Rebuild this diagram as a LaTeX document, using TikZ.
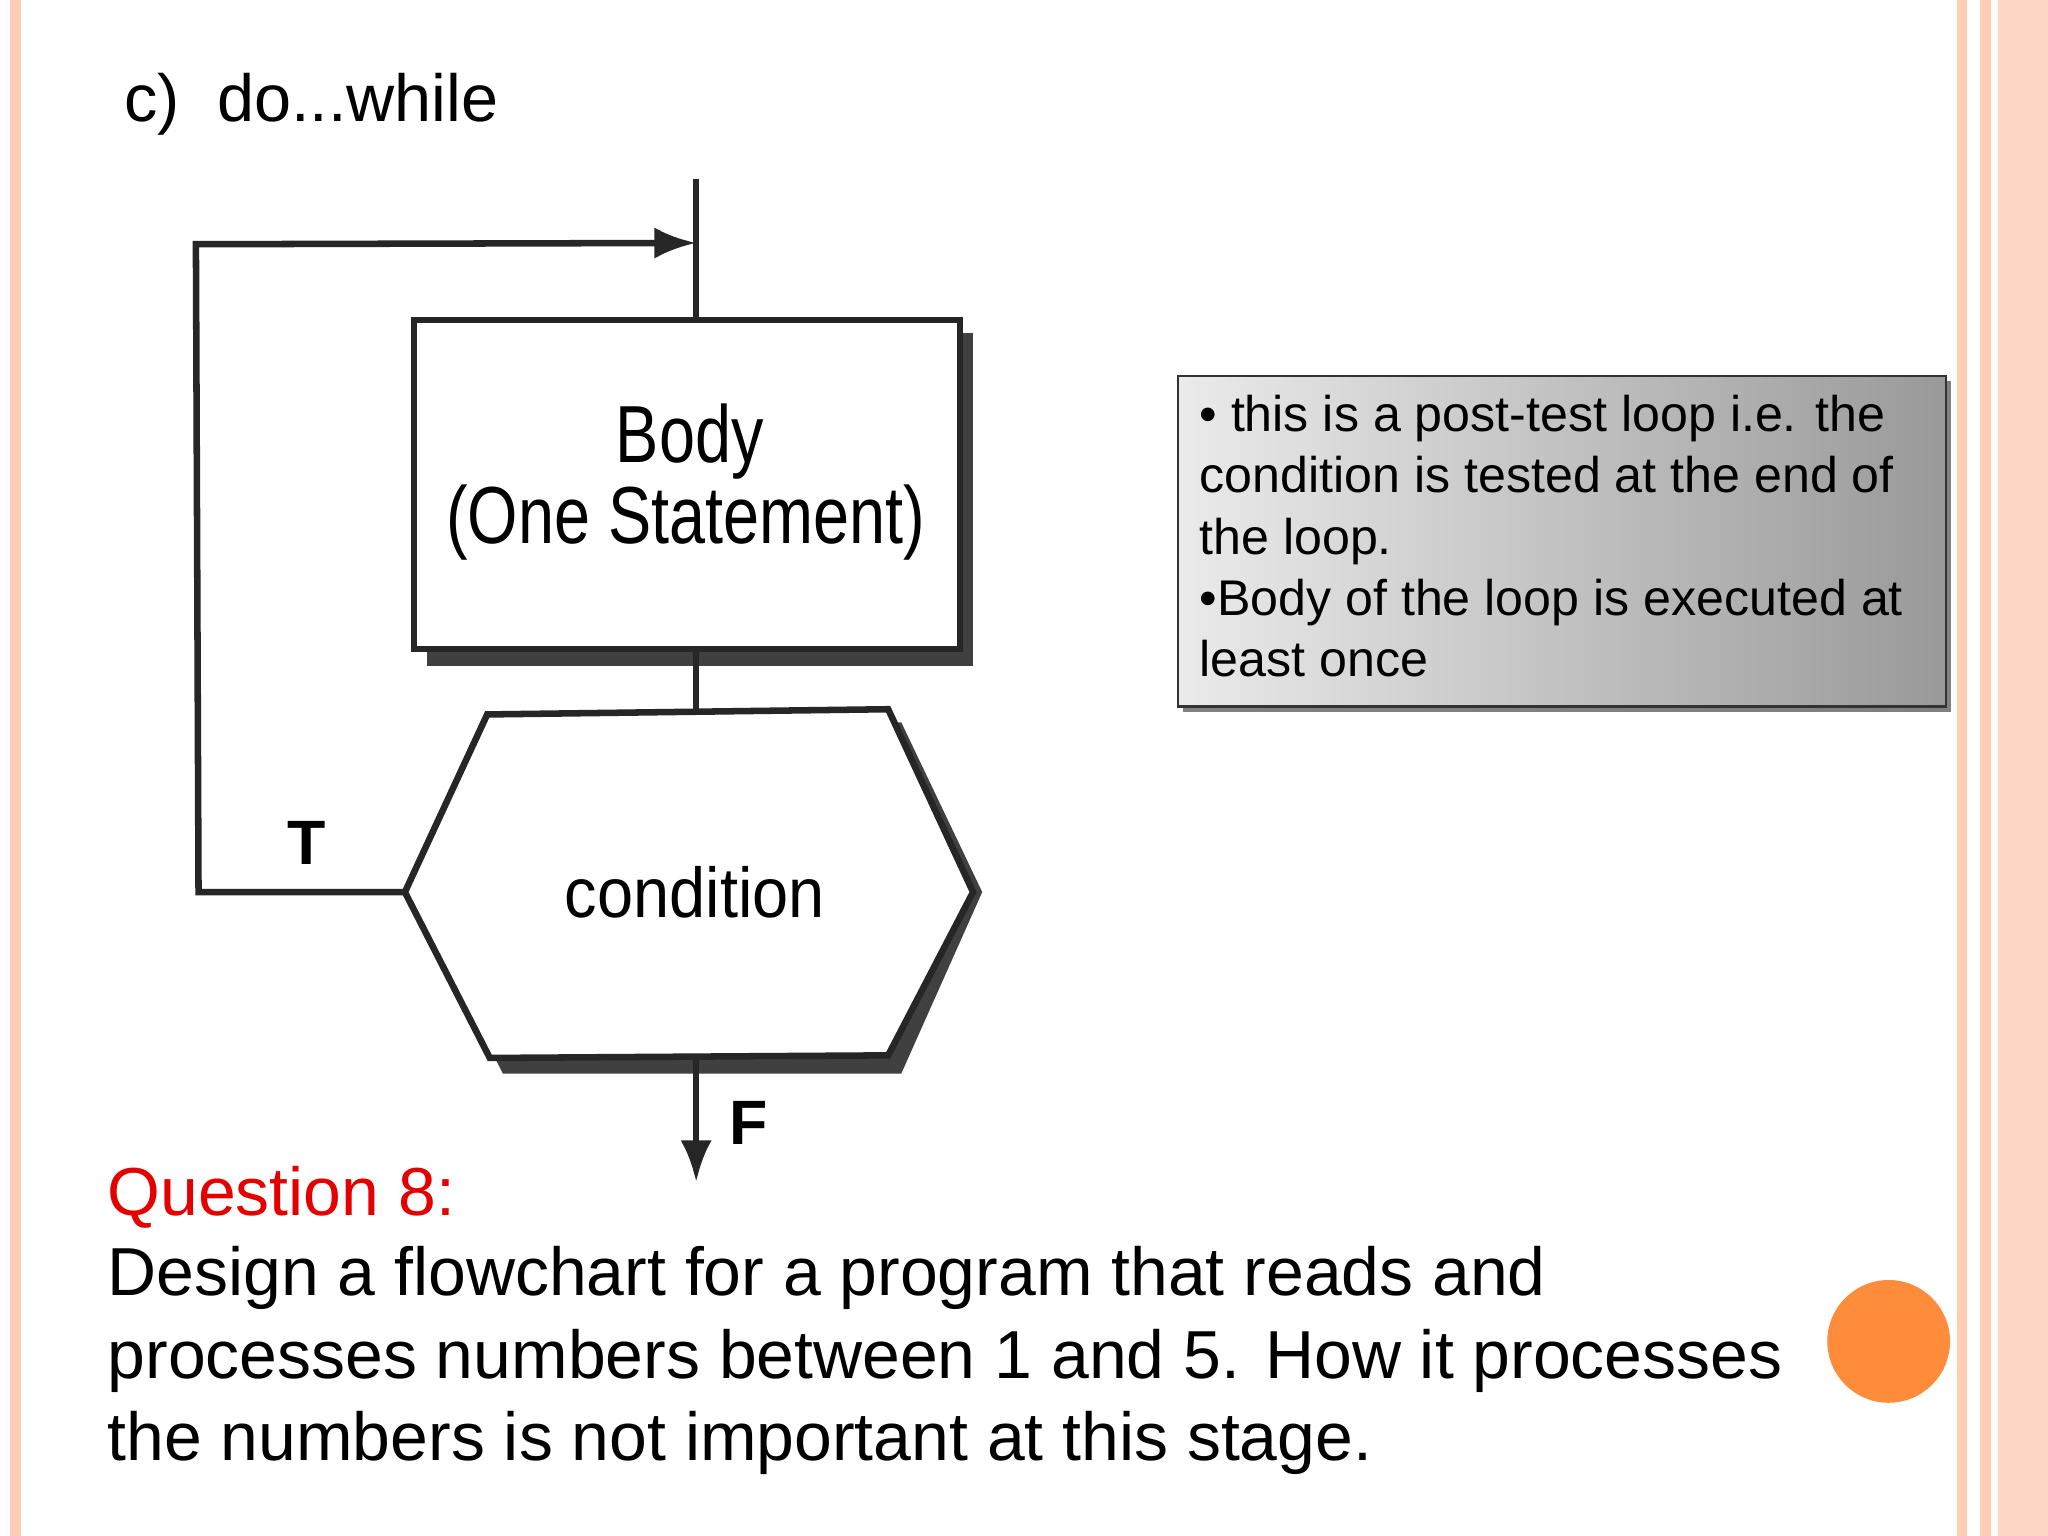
\documentclass[tikz,border=0pt]{standalone}
\usepackage{fontspec}
\usetikzlibrary{arrows.meta}
\setmainfont{Liberation Sans}
\definecolor{orng}{HTML}{FF8C3A}
\begin{document}
\begin{tikzpicture}[x=0.5pt,y=-0.5pt,
  ln/.style={line width=2.5pt,black!85},
  shad/.style={fill=black!75},
  lbl/.style={font=\fontsize{31}{36}\selectfont,inner sep=0pt}]
\useasboundingbox (0,0) rectangle (1568,1176);
\fill[white] (0,0) rectangle (1568,1176);
% stripes
\fill[orange!30!pink!60] (8,0) rectangle (16,1176);
\fill[orange!30!pink!60] (1498,0) rectangle (1506,1176);
\fill[orange!30!pink!60] (1516,0) rectangle (1524,1176);
\fill[orange!25!pink!50] (1530,0) rectangle (1568,1176);
\node[anchor=west,inner sep=0pt,font=\fontsize{25.5}{28}\selectfont] (title) at (95,80) {c)\ \ do...while};
% shapes
\fill[shad] (327,255) rectangle (745,510);
\node[draw,ln,fill=white,minimum width=209pt,minimum height=126pt,inner sep=0pt] (body) at (526,371) {};
\node[lbl] (bt) at (528,338) {\scalebox{0.8}[1]{Body}};
\node[lbl] (bt2) at (525,400) {\scalebox{0.8}[1]{(One Statement)}};
\fill[shad] (385,557)--(690,553)--(752,683)--(690,822)--(385,822)--(320,693)--cycle;
\draw[ln,fill=white] (373,547)--(680,543)--(745,683)--(680,808)--(375,810)--(310,683)--cycle;
\coordinate (hl) at (310,683);
\coordinate (ht) at (533,546);
\coordinate (hb) at (533,809);
\node[inner sep=0pt,font=\fontsize{27}{30}\selectfont] (cond) at (532,683) {\scalebox{0.92}[1]{condition}};
\coordinate (top) at (533,137);
\coordinate (join) at (533,186);
\coordinate (c1) at (150,187);
\coordinate (c2) at (152,683);
\coordinate (fend) at (533,905);
\draw[ln] (top)--(body.north -| top);
\draw[ln] (body.south -| top)--(ht);
\draw[ln,-{Latex[length=16pt,width=12pt]}] (hl)--(c2)--(c1)--(join);
\draw[ln,-{Latex[length=16pt,width=12pt]}] (hb)--(fend);
\node[font=\bfseries\fontsize{24}{28}\selectfont] (T) at (235,645) {T};
\node[font=\bfseries\fontsize{24}{28}\selectfont] (F) at (573,860) {F};
% gray box
\fill[black!50] (906,292) rectangle (1494,545);
\shade[left color=black!8,right color=black!40,draw=black!80,line width=1pt] (902,288) rectangle (1490,541);
\node[anchor=north west,inner sep=0pt,align=left,font=\fontsize{19.2}{23.5}\selectfont] (note) at (918,302) {• this is a post-test loop i.e. the\\condition is tested at the end of\\the loop.\\•Body of the loop is executed at\\least once};
\node[anchor=west,inner sep=0pt,text=red!90!black,font=\fontsize{26}{30}\selectfont] (q) at (82,917) {Question 8:};
\node[anchor=north west,inner sep=0pt,align=left,font=\fontsize{26}{31.5}\selectfont] (qt) at (82,954) {Design a flowchart for a program that reads and\\processes numbers between 1 and 5. How it processes\\the numbers is not important at this stage.};
\fill[orng] (1446,1027) circle (47);
\end{tikzpicture}
\end{document}
